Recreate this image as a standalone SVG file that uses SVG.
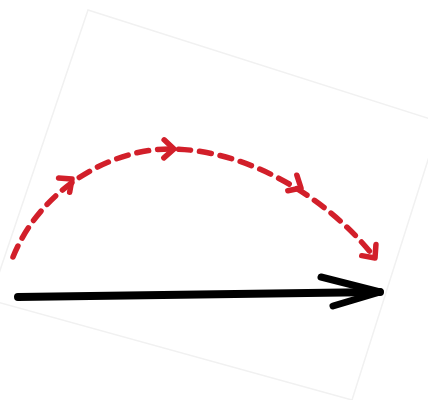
<svg xmlns="http://www.w3.org/2000/svg" width="428" height="400" viewBox="0 0 428 400">
  <defs>
    <style>
      .paper { fill: #ffffff; stroke: #f1f1f1; stroke-width: 1.5; }
      .red { fill: none; stroke: #d21f2a; stroke-width: 5.5; stroke-linecap: round; stroke-linejoin: round; }
      .dash { stroke-dasharray: 12 9; }
      .black { fill: none; stroke: #000000; stroke-linecap: round; stroke-linejoin: round; }
    </style>
    <path id="chev" d="M-10,-9 L0,0 L-10,9" />
  </defs>
  <rect width="428" height="400" fill="#ffffff"/>
  <g id="paper">
    <polygon class="paper" points="88,10 440,122 352,400 -10,300"/>
  </g>
  <g id="connectors">
    <g id="red-arc">
      <path class="red dash" d="M13,257 C40,190 110,148 172,149 C250,150 330,200 375,258"/>
      <use href="#chev" class="red" transform="translate(72,179) rotate(-38)"/>
      <use href="#chev" class="red" transform="translate(174,149) rotate(1)"/>
      <use href="#chev" class="red" transform="translate(301,188) rotate(30)"/>
      <use href="#chev" class="red" transform="translate(375,258) rotate(52)"/>
    </g>
    <g id="black-arrow">
      <path class="black" stroke-width="8" d="M18,297 C120,295 250,293 380,292"/>
      <path class="black" stroke-width="7" d="M321,277 L380,292 L333,306"/>
    </g>
  </g>
</svg>
